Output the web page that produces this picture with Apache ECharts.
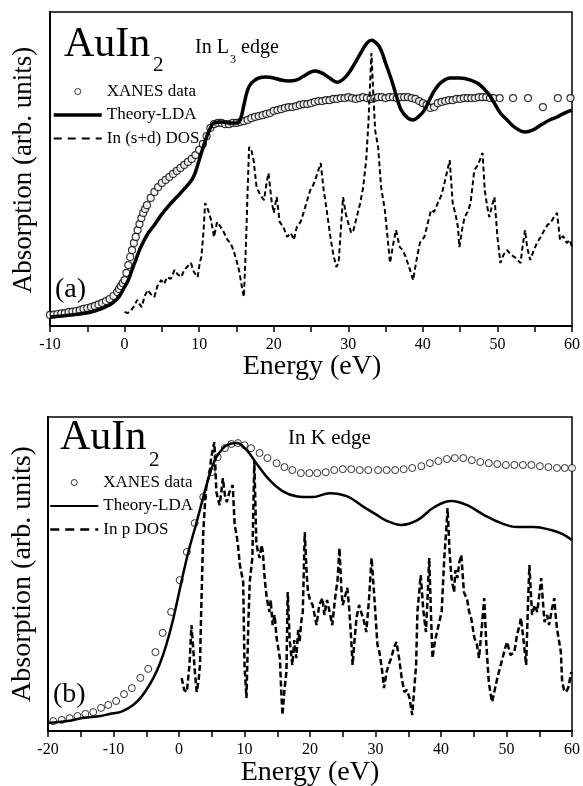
<!DOCTYPE html>
<html>
<head>
<meta charset="utf-8">
<script src="https://cdn.jsdelivr.net/npm/echarts@6/dist/echarts.min.js"></script>
<style>
  html, body { margin: 0; padding: 0; background: #fff; }
  #chart { width: 583px; height: 786px; }
</style>
</head>
<body>
<div id="chart"></div>
<script>
  // values, [energy eV, absorption arb. units]
  // panel (a) In L3 edge
  var xanesA = [[-10,3.7],[-9.5,3.8],[-9,4.0],[-8.5,4.2],[-8,4.3],[-7.5,4.7],[-7,4.8],[-6.5,5.0],[-6,5.3],[-5.5,5.7],[-5,6.0],[-4.5,6.3],[-4,6.7],[-3.5,7.2],[-3,7.7],[-2.5,8.3],[-2,9.0],[-1.5,10.0],[-1,11.3],[-0.75,12.3],[-0.5,13.3],[-0.25,14.3],[0,15.3],[0.25,17.7],[0.5,20.3],[0.75,23.0],[1,25.3],[1.25,27.7],[1.5,29.7],[1.75,32.0],[2,34.0],[2.25,36.0],[2.5,37.7],[2.75,39.0],[3,40.3],[3.5,42.7],[4,44.7],[4.5,46.3],[5,47.7],[5.5,48.7],[6,49.7],[6.5,50.7],[7,51.7],[7.5,52.7],[8,53.7],[8.5,54.7],[9,55.7],[9.5,57.0],[10,58.7],[10.5,60.7],[11,63.3],[11.5,66.0],[12,67.3],[12.5,67.7],[13,67.7],[13.5,67.3],[14,67.3],[14.5,67.7],[15,67.7],[15.5,68.0],[16,68.3],[16.5,68.7],[17,69.3],[17.5,69.7],[18,70.0],[18.5,70.3],[19,70.7],[19.5,71.0],[20,71.7],[20.5,72.0],[21,72.3],[21.5,72.7],[22,73.0],[22.5,73.0],[23,73.3],[23.5,73.7],[24,74.0],[24.5,74.0],[25,74.3],[25.5,74.7],[26,75.0],[26.5,75.0],[27,75.3],[27.5,75.3],[28,75.7],[28.5,75.7],[29,76.0],[29.5,76.0],[30,76.3],[30.5,76.0],[31,75.7],[31.5,76.0],[32,76.3],[32.5,76.0],[33,75.7],[33.5,76.0],[34,76.3],[34.5,76.3],[35,76.0],[35.5,76.3],[36,76.3],[36.5,76.0],[37,76.3],[37.5,76.3],[38,76.3],[38.5,76.0],[39,75.7],[39.5,75.0],[40,74.3],[40.5,73.7],[41,72.7],[41.5,73.0],[42,74.3],[42.5,74.7],[43,75.0],[43.5,75.3],[44,75.3],[44.5,75.7],[45,75.7],[45.5,76.0],[46,76.0],[46.5,76.0],[47,76.0],[47.5,76.3],[48,76.3],[48.5,76.3],[49,76.0],[49.5,76.0],[50.3,76.0],[52.1,76.0],[54.1,76.0],[56.1,73.0],[58.1,76.0],[59.8,76.0]]

  var theoryA = [[-10,3.0],[-6,4.0],[-4,5.0],[-2,7.0],[-1,9.0],[-0.5,10.7],[0,13.0],[0.5,15.3],[1,18.7],[1.5,22.0],[2,25.3],[3,30.3],[4,33.7],[5,37.3],[6,40.3],[7,43.0],[8,45.7],[9,48.7],[9.5,51.3],[10,55.3],[10.5,59.3],[11,63.0],[11.5,66.0],[12,67.7],[13,68.0],[14,67.7],[15,67.7],[15.5,68.7],[16,73.7],[16.5,78.7],[17,81.0],[18,82.7],[19,83.0],[20,82.7],[21,82.0],[22,81.7],[23,82.0],[24,83.3],[25,84.7],[25.6,85.0],[26.5,84.3],[27.5,82.7],[28.5,81.3],[29.5,82.7],[30.5,86.0],[31.5,90.3],[32.5,94.3],[33.1,95.3],[34,93.7],[34.5,91.3],[35,87.7],[35.8,82.0],[36.5,76.3],[37.1,72.0],[38,69.3],[38.7,68.7],[39.5,70.0],[40.2,72.0],[41,76.0],[41.6,78.7],[42.5,81.3],[43.7,82.7],[45,82.7],[46.4,82.0],[47.5,80.7],[48.7,77.7],[49.5,74.7],[50.4,71.0],[51.3,68.7],[52.3,66.3],[53.7,64.7],[54.7,65.3],[55.8,67.0],[57,68.7],[58,69.7],[59,71.0],[60,72.0]]

  var dosA = [[0,4.7],[0.4,4.3],[0.9,5.3],[1.3,6.7],[1.7,8.7],[2.0,7.3],[2.3,6.3],[2.7,10.0],[3.1,12.0],[3.5,10.7],[4.0,9.7],[4.4,13.3],[4.9,15.3],[5.3,14.0],[5.7,16.3],[6.2,15.7],[6.7,18.7],[7.1,17.3],[7.6,16.3],[8.0,18.7],[8.5,20.0],[8.9,21.0],[9.3,18.0],[9.8,16.3],[10.1,21.3],[10.3,23.0],[10.6,32.0],[10.8,41.0],[11.2,38.7],[11.6,35.3],[12.0,29.7],[12.4,34.7],[12.9,33.0],[13.3,31.3],[13.8,28.7],[14.2,27.7],[14.6,25.3],[15.0,22.0],[15.4,18.0],[15.8,12.0],[16.0,9.7],[16.3,28.7],[16.5,45.3],[16.7,59.7],[17.0,58.7],[17.3,55.3],[17.7,46.3],[18.2,43.7],[18.7,42.0],[19.0,47.0],[19.3,51.0],[19.7,42.0],[20.0,37.7],[20.4,43.0],[20.8,34.7],[21.3,33.0],[21.8,29.7],[22.3,31.0],[22.7,28.7],[23.1,33.0],[23.6,34.7],[24.0,37.7],[24.5,42.0],[24.9,45.3],[25.3,47.0],[25.7,49.7],[26.0,52.0],[26.3,54.3],[26.7,45.3],[27.1,38.7],[27.6,29.7],[28.0,23.7],[28.4,19.7],[28.7,21.0],[29.0,32.0],[29.3,43.0],[29.7,37.0],[30.0,34.3],[30.4,31.0],[30.7,32.0],[31.2,37.0],[31.6,41.0],[32.0,46.3],[32.4,55.3],[32.7,67.7],[33.1,91.0],[33.4,75.3],[33.6,65.3],[34.0,59.7],[34.4,46.3],[34.9,38.7],[35.3,28.7],[35.6,21.0],[36.0,27.0],[36.4,32.0],[36.9,26.3],[37.3,25.3],[37.7,23.0],[38.2,19.3],[38.7,15.3],[39.1,21.3],[39.6,27.7],[40.2,29.7],[40.6,33.7],[41.1,38.7],[41.5,38.0],[42.0,41.0],[42.5,43.7],[42.9,47.7],[43.3,52.0],[43.6,55.3],[44.0,41.0],[44.4,37.0],[44.7,33.0],[44.9,26.3],[45.3,32.7],[45.6,36.3],[46.0,38.0],[46.4,41.0],[46.9,52.0],[47.4,53.7],[48.0,57.7],[48.3,45.3],[48.6,40.3],[48.9,36.3],[49.3,40.3],[49.6,43.0],[50.0,29.7],[50.4,21.0],[50.8,23.7],[51.3,25.3],[51.8,23.7],[52.3,23.0],[52.7,22.0],[53.1,21.0],[53.4,27.0],[53.7,32.0],[54.0,26.0],[54.4,22.0],[54.8,24.7],[55.3,27.7],[55.8,29.7],[56.3,32.0],[56.7,33.7],[57.1,34.3],[57.5,36.0],[58.0,37.7],[58.4,28.7],[58.8,30.0],[59.3,27.7],[59.7,28.7],[60.0,26.3]]

  // panel (b) In K edge
  var xanesB = [[-19.2,3.3],[-17.9,3.7],[-16.7,4.3],[-15.5,5.0],[-14.3,5.7],[-13.1,6.3],[-11.9,7.7],[-10.8,8.7],[-9.6,10.0],[-8.4,12.3],[-7.2,14.3],[-5.9,17.7],[-4.7,20.7],[-3.6,26.3],[-2.5,32.7],[-1.2,39.7],[0.1,50.3],[1.2,59.7],[2.4,69.3],[3.7,78.0],[5.0,86.3],[5.9,91.3],[7.0,94.3],[8.0,95.7],[9.0,96.0],[10.0,95.3],[11.0,94.3],[12.3,92.7],[13.5,91.0],[14.9,89.3],[16.1,88.0],[17.3,87.0],[18.6,86.0],[19.9,86.0],[21.1,86.0],[22.4,86.3],[23.7,87.0],[25.0,87.3],[26.3,87.3],[27.6,87.0],[28.9,87.0],[30.4,87.0],[31.7,87.0],[33.0,87.0],[34.3,87.3],[35.6,87.7],[37.0,88.3],[38.3,89.3],[39.6,90.0],[40.9,90.7],[42.1,91.0],[43.4,91.0],[44.7,90.3],[46.0,89.7],[47.3,89.3],[48.6,89.0],[49.9,88.7],[51.2,88.7],[52.5,88.7],[53.8,88.7],[55.1,88.3],[56.4,88.0],[57.7,87.7],[58.9,87.7],[60.0,87.7]]

  var theoryB = [[-20,2.7],[-17,3.3],[-14.7,4.3],[-12,5.0],[-10.6,5.7],[-9,6.3],[-8,7.3],[-7,8.7],[-6,10.7],[-5,13.7],[-4,17.3],[-3,22.0],[-2,28.3],[-1,36.3],[0,46.0],[0.6,52.0],[1.5,60.3],[2.7,69.7],[3.5,76.3],[4.2,82.0],[5,87.7],[5.7,91.3],[6.5,93.7],[7.3,95.3],[8.8,96.0],[10.3,93.7],[11.8,89.3],[13.8,83.7],[15.8,80.0],[17.9,78.3],[20.4,78.0],[23,79.3],[25.6,78.3],[28,75.0],[30,72.3],[31.8,70.0],[33.9,68.7],[36.4,70.3],[39,74.7],[41.6,76.7],[44,75.3],[46.6,72.0],[49.2,69.3],[51.6,68.0],[54.2,68.0],[56.8,67.0],[58.5,65.7],[60,63.7]]

  var dosB = [[0.4,17.7],[0.8,13.7],[1.2,13.0],[1.6,22.0],[1.9,35.3],[2.1,29.7],[2.4,20.3],[2.7,13.0],[3.0,17.0],[3.2,22.0],[3.4,41.0],[3.7,66.3],[4.0,77.0],[4.2,82.0],[4.5,84.3],[4.7,86.3],[4.9,91.0],[5.2,94.3],[5.4,96.3],[5.7,79.7],[6.0,77.0],[6.2,75.3],[6.5,80.3],[6.7,84.3],[7.0,78.7],[7.3,76.3],[7.5,78.0],[7.7,79.7],[8.0,81.0],[8.2,82.0],[8.5,68.7],[8.8,65.3],[9.0,62.0],[9.3,55.3],[9.6,52.0],[9.8,49.7],[10.0,22.0],[10.3,11.0],[10.6,37.0],[10.8,49.7],[11.0,53.7],[11.2,57.7],[11.5,90.3],[11.8,63.0],[12.0,60.3],[12.3,57.7],[12.6,62.0],[12.8,59.7],[13.1,50.3],[13.4,44.3],[13.8,39.7],[14.0,43.7],[14.3,35.3],[14.6,38.7],[14.9,31.0],[15.2,27.0],[15.4,24.3],[15.6,13.7],[15.8,5.3],[16.1,13.7],[16.4,19.7],[16.6,46.3],[16.9,30.3],[17.3,22.0],[17.6,30.3],[17.9,24.3],[18.2,33.7],[18.4,29.7],[18.7,37.0],[18.9,39.7],[19.2,66.3],[19.5,52.0],[19.7,46.3],[20.0,43.7],[20.4,42.0],[20.7,38.7],[21.0,35.3],[21.4,42.0],[21.9,44.3],[22.2,38.7],[22.6,43.7],[23.0,39.7],[23.4,35.3],[23.8,43.7],[24.2,50.3],[24.5,61.0],[24.8,47.0],[25.0,42.0],[25.4,45.3],[25.7,47.7],[26.0,40.3],[26.3,30.3],[26.5,22.0],[26.8,30.3],[27.1,37.7],[27.5,42.0],[27.8,39.7],[28.2,37.0],[28.6,33.0],[29.0,43.7],[29.4,57.7],[29.8,45.3],[30.3,28.7],[30.6,26.3],[31.0,20.3],[31.3,14.3],[31.7,19.7],[32.0,22.0],[32.4,24.3],[32.8,27.7],[33.2,29.7],[33.6,24.3],[34.0,17.7],[34.4,13.0],[34.8,13.7],[35.2,11.0],[35.6,5.3],[35.9,13.7],[36.2,22.0],[36.4,39.7],[36.7,47.0],[36.9,52.0],[37.3,40.3],[37.7,33.0],[38.0,47.0],[38.2,57.7],[38.5,37.0],[38.7,24.3],[39.1,30.3],[39.4,33.0],[39.8,37.0],[40.1,39.7],[40.5,57.7],[40.8,67.0],[41.0,74.3],[41.3,60.3],[41.6,51.0],[42.0,46.3],[42.2,53.7],[42.5,51.0],[42.8,56.3],[43.1,58.7],[43.5,46.3],[44.0,43.7],[44.3,39.7],[44.6,37.7],[45.1,31.0],[45.5,28.7],[45.8,24.3],[46.2,33.7],[46.6,44.3],[46.9,29.7],[47.3,16.3],[47.6,12.0],[47.8,9.7],[48.2,13.7],[48.6,17.7],[49.0,21.0],[49.4,24.3],[49.8,27.7],[50.1,29.7],[50.6,25.3],[51.2,26.3],[51.6,32.0],[52.0,35.3],[52.2,37.7],[52.6,30.3],[53.0,22.0],[53.3,43.7],[53.5,55.3],[53.7,47.0],[53.9,38.7],[54.3,42.0],[54.7,39.7],[55.0,45.3],[55.3,51.0],[55.6,42.0],[55.8,36.3],[56.2,38.7],[56.5,35.3],[56.9,40.3],[57.3,44.3],[57.5,38.7],[57.7,34.3],[58.0,30.3],[58.3,26.3],[58.5,16.3],[58.8,13.7],[59.1,13.0],[59.4,14.3],[59.6,16.3],[59.9,19.7]]

  var serif = "'Liberation Serif', 'Times New Roman', 'DejaVu Serif', serif"

  function xAxisFor (grid, min) {
    return {
      gridIndex: grid,
      type: 'value',
      min: min,
      max: 60,
      interval: 5,
      axisLine: { onZero: false, lineStyle: { color: '#000', width: 2 } },
      axisTick: { length: 6, lineStyle: { color: '#000', width: 1.5 } },
      axisLabel: {
        margin: 11,
        color: '#000',
        fontFamily: serif,
        fontSize: 16,
        formatter: function (v) { return v % 10 === 0 ? String(v) : '' }
      },
      splitLine: { show: false }
    }
  }

  function yAxisFor (grid) {
    return {
      gridIndex: grid,
      type: 'value',
      min: 0,
      max: 104.7,
      axisLine: { show: true, onZero: false, lineStyle: { color: '#000', width: 2 } },
      axisTick: { show: false },
      axisLabel: { show: false },
      splitLine: { show: false }
    }
  }

  function txt (x, y, text, size, extra) {
    var el = {
      type: 'text',
      x: x,
      y: y,
      silent: true,
      style: {
        text: text,
        font: size + 'px ' + serif,
        fill: '#000',
        textAlign: 'left',
        textVerticalAlign: 'middle'
      }
    }
    if (extra) {
      for (var k in extra) el[k] = extra[k]
    }
    return el
  }

  var circleIcon = { color: '#fff', borderColor: '#000', borderWidth: 1 }
  // hide the symbol that the legend puts in the middle of line icons
  var noSymbol = { opacity: 0 }

  var option = {
    animation: false,
    backgroundColor: '#fff',
    grid: [
      { left: 50, top: 12, width: 525, height: 314, show: true, borderColor: '#000', borderWidth: 1.5 },
      { left: 48, top: 417, width: 525, height: 314, show: true, borderColor: '#000', borderWidth: 1.5 }
    ],
    xAxis: [xAxisFor(0, -10), xAxisFor(1, -20)],
    yAxis: [yAxisFor(0), yAxisFor(1)],
    legend: [
      {
        left: 47, top: 78, orient: 'vertical', itemWidth: 48, itemHeight: 6, itemGap: 6.5,
        selectedMode: false,
        textStyle: { fontFamily: serif, fontSize: 17, color: '#000' },
        data: [
          { name: 'XANES data', icon: 'circle', itemStyle: circleIcon },
          { name: 'Theory-LDA', itemStyle: noSymbol, lineStyle: { width: 3.5, color: '#000' } },
          { name: 'In (s+d) DOS', itemStyle: noSymbol, lineStyle: { width: 2, color: '#000', type: [8, 6] } }
        ]
      },
      {
        left: 44, top: 469, orient: 'vertical', itemWidth: 48, itemHeight: 6, itemGap: 6.5,
        selectedMode: false,
        textStyle: { fontFamily: serif, fontSize: 17, color: '#000' },
        data: [
          { name: 'XANES data', icon: 'circle', itemStyle: circleIcon },
          { name: 'Theory-LDA', itemStyle: noSymbol, lineStyle: { width: 2, color: '#000' } },
          { name: 'In p DOS', itemStyle: noSymbol, lineStyle: { width: 2.5, color: '#000', type: [9, 6] } }
        ]
      }
    ],
    series: [
      {
        name: 'In (s+d) DOS', type: 'line', xAxisIndex: 0, yAxisIndex: 0,
        data: dosA, symbol: 'none',
        lineStyle: { color: '#000', width: 2, type: [5, 3] }
      },
      {
        name: 'Theory-LDA', type: 'line', xAxisIndex: 0, yAxisIndex: 0,
        data: theoryA, symbol: 'none', smooth: 0.4,
        lineStyle: { color: '#000', width: 3.5 }
      },
      {
        name: 'XANES data', type: 'scatter', xAxisIndex: 0, yAxisIndex: 0,
        data: xanesA, symbol: 'circle', symbolSize: 7,
        itemStyle: { color: '#fff', borderColor: '#000', borderWidth: 1.2 }
      },
      {
        name: 'In p DOS', type: 'line', xAxisIndex: 1, yAxisIndex: 1,
        data: dosB, symbol: 'none',
        lineStyle: { color: '#000', width: 2.5, type: [6, 3] }
      },
      {
        name: 'Theory-LDA', type: 'line', xAxisIndex: 1, yAxisIndex: 1,
        data: theoryB, symbol: 'none', smooth: 0.4,
        lineStyle: { color: '#000', width: 2.5 }
      },
      {
        name: 'XANES data', type: 'scatter', xAxisIndex: 1, yAxisIndex: 1,
        data: xanesB, symbol: 'circle', symbolSize: 7,
        itemStyle: { color: '#fff', borderColor: '#000', borderWidth: 1 }
      }
    ],
    graphic: {
      elements: [
        // panel (a)
        txt(64, 45, 'AuIn', 42),
        txt(153, 65, '2', 21),
        txt(195, 48, 'In L', 20),
        txt(230, 60, '3', 12),
        txt(241, 48, 'edge', 20),
        txt(55, 290, '(a)', 28),
        txt(24, 170, 'Absorption (arb. units)', 27, { rotation: Math.PI / 2 }),
        txt(312, 367, 'Energy (eV)', 28),
        // panel (b)
        txt(60, 438, 'AuIn', 42),
        txt(149, 460, '2', 21),
        txt(288, 438, 'In K edge', 21),
        txt(53, 695, '(b)', 28),
        txt(23, 574, 'Absorption (arb. units)', 28, { rotation: Math.PI / 2 }),
        txt(310, 773, 'Energy (eV)', 28)
      ]
    }
  }

  // centred labels
  option.graphic.elements[6].style.textAlign = 'center'
  option.graphic.elements[7].style.textAlign = 'center'
  option.graphic.elements[12].style.textAlign = 'center'
  option.graphic.elements[13].style.textAlign = 'center'

  var chart = echarts.init(document.getElementById('chart'))
  chart.setOption(option)
  window.addEventListener('resize', function () {
    chart.resize()
  })
</script>
</body>
</html>
